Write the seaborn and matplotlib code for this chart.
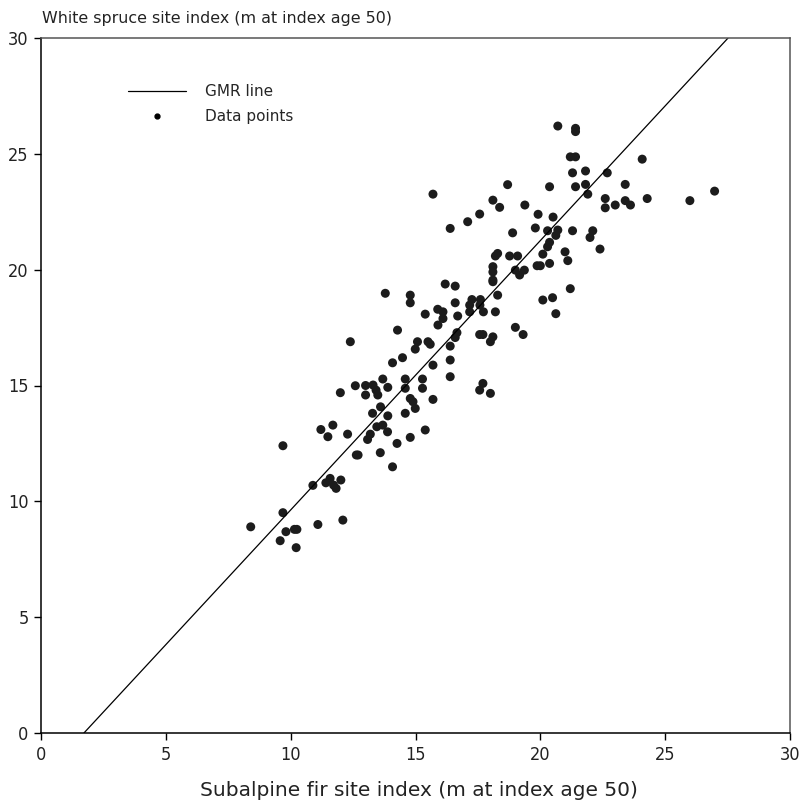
import matplotlib
matplotlib.use("Agg")
import matplotlib.pyplot as plt
from matplotlib.lines import Line2D
import seaborn as sns
import pandas as pd
import numpy as np

# Subalpine fir site index (x) and white spruce site index (y)
fir_si = [
    12.59, 13.0, 13.3, 13.69, 13.89, 13.42, 13.49, 13.0, 11.99, 13.6, 13.28, 13.89,
    11.69, 11.21, 11.49, 12.28, 13.45, 13.69, 13.88, 13.19, 13.08, 14.26, 12.63, 12.7,
    13.59, 14.08, 9.69, 10.89, 11.58, 11.41, 12.01, 11.72, 11.82, 9.69, 8.4, 10.25,
    10.15, 9.81, 11.09, 12.09, 9.58, 10.22,
    16.19, 16.59, 18.1, 18.29, 13.79, 14.79, 14.79, 16.59, 17.26, 17.6, 17.17, 17.58,
    17.72, 17.17, 18.2, 15.39, 15.89, 16.1, 16.1, 16.69, 15.9, 14.28, 16.66, 16.59,
    17.57, 17.7, 18.1, 18.0, 19.0, 19.31, 15.08, 14.99, 15.5, 15.59, 16.39, 14.48,
    14.08, 15.7, 16.39, 16.39, 14.59, 15.28, 14.59, 15.28, 17.7, 17.57, 18.0, 14.79,
    14.9, 15.7, 14.99, 14.59, 15.39, 14.79,
    18.1, 18.37, 19.38, 17.57, 17.09, 16.39, 18.89, 18.29, 18.2, 18.77, 19.09, 18.1,
    18.1, 18.1, 19.0, 19.36, 19.17,
    20.7, 21.41, 21.41, 21.2, 21.41, 24.08, 21.29, 21.81, 22.68, 18.69, 20.37, 21.41,
    21.81, 21.9, 23.4, 26.98, 25.99, 24.28, 22.6, 22.6, 23.0, 23.4, 23.61, 19.91,
    20.51, 19.8, 20.29, 20.7, 20.62, 21.29, 22.1, 21.99, 20.37, 20.29, 20.1, 20.99,
    21.1, 20.37, 19.87, 20.0, 22.39, 21.2, 20.1, 20.49, 20.62,
    12.39, 15.7,
]
spruce_si = [
    14.99, 15.0, 15.02, 15.28, 14.92, 14.8, 14.59, 14.59, 14.69, 14.08, 13.8, 13.69,
    13.29, 13.1, 12.79, 12.9, 13.22, 13.29, 13.0, 12.9, 12.67, 12.5, 12.0, 12.0,
    12.1, 11.49, 12.4, 10.69, 10.99, 10.8, 10.92, 10.7, 10.56, 9.51, 8.9, 8.79,
    8.79, 8.69, 9.0, 9.19, 8.3, 8.0,
    19.38, 19.29, 19.48, 18.9, 18.98, 18.9, 18.57, 18.57, 18.71, 18.71, 18.47, 18.47,
    18.18, 18.18, 18.18, 18.08, 18.29, 18.18, 17.89, 18.0, 17.61, 17.39, 17.28, 17.07,
    17.2, 17.2, 17.1, 16.89, 17.51, 17.2, 16.89, 16.57, 16.89, 16.78, 16.7, 16.2,
    15.98, 15.88, 16.1, 15.38, 15.28, 15.28, 14.88, 14.88, 15.09, 14.8, 14.66, 14.44,
    14.3, 14.4, 14.01, 13.8, 13.08, 12.76,
    23.0, 22.69, 22.79, 22.4, 22.07, 21.78, 21.59, 20.7, 20.59, 20.59, 20.59, 20.13,
    19.9, 19.55, 19.98, 19.98, 19.77,
    26.2, 26.1, 25.96, 24.87, 24.87, 24.77, 24.18, 24.26, 24.18, 23.67, 23.58, 23.58,
    23.68, 23.26, 23.68, 23.39, 22.98, 23.07, 23.07, 22.67, 22.79, 22.98, 22.79, 22.39,
    22.27, 21.8, 21.68, 21.71, 21.48, 21.68, 21.68, 21.39, 21.18, 20.99, 20.67, 20.77,
    20.39, 20.27, 20.17, 20.17, 20.89, 19.18, 18.69, 18.79, 18.1,
    16.89, 23.26,
]

# GMR line end points (x where it meets y=0 and y=30)
gmr_x = [1.72, 27.52]
gmr_y = [0.0, 30.0]

x_ticks = [0, 5, 10, 15, 20, 25, 30]
y_ticks = [0, 5, 10, 15, 20, 25, 30]

sns.set_style("ticks")
plt.rcParams["font.family"] = ["DejaVu Sans"]

fig = plt.figure(figsize=(8.06, 8.07), dpi=100)
ax = fig.add_axes([41 / 806, 1 - 733 / 807, (790 - 41) / 806, (733 - 38) / 807])

df = pd.DataFrame({"fir": fir_si, "spruce": spruce_si})
line_df = pd.DataFrame({"x": gmr_x, "y": gmr_y})

sns.lineplot(data=line_df, x="x", y="y", ax=ax, color="black", linewidth=0.9)
sns.scatterplot(data=df, x="fir", y="spruce", ax=ax, color="#1c1c1c",
                s=42, edgecolor="none", linewidth=0)

ax.set_xlim(0, 30)
ax.set_ylim(0, 30)
ax.set_xticks(x_ticks)
ax.set_yticks(y_ticks)
tick_font = ["DejaVu Sans Condensed", "Liberation Sans Narrow", "DejaVu Sans"]
ax.set_xticklabels([str(t) for t in x_ticks], family=tick_font, fontsize=13,
                   stretch="condensed", color="#222222")
ax.set_yticklabels([str(t) for t in y_ticks], family=tick_font, fontsize=13,
                   stretch="condensed", color="#222222")
ax.tick_params(direction="out", length=5, width=1, color="black", pad=4)
ax.set_xlabel("")
ax.set_ylabel("")
for sp in ax.spines.values():
    sp.set_visible(True)
    sp.set_color("black")
    sp.set_linewidth(1.1)
ax.spines["top"].set_color("#555555")
ax.spines["right"].set_color("#555555")

fig.text(42 / 806, 1 - 19 / 807, "White spruce site index (m at index age 50)",
         fontsize=11.4, ha="left", va="center", color="#222222")
fig.text(419 / 806, 1 - 790 / 807, "Subalpine fir site index (m at index age 50)",
         fontsize=14.5, ha="center", va="center", color="#222222")

handles = [
    Line2D([0], [0], color="black", linewidth=0.9),
    Line2D([0], [0], color="black", marker="o", linestyle="none", markersize=3.5),
]
leg = ax.legend(handles, ["GMR line", "Data points"], loc="upper left",
                bbox_to_anchor=(0.098, 0.953), frameon=False, fontsize=11,
                handlelength=3.8, handletextpad=1.25, labelspacing=0.63)

fig.savefig("out.png", dpi=100, facecolor="white")
